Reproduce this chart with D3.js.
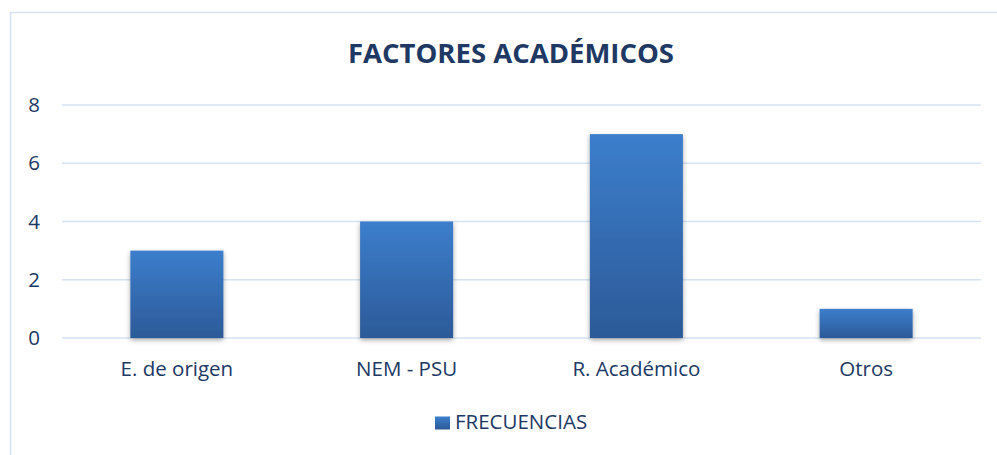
<!DOCTYPE html>
<html><head><meta charset="utf-8">
<script src="https://cdn.jsdelivr.net/npm/d3@7"></script>
<style>body{margin:0;background:#fff}svg{display:block}</style>
</head><body>
<script>
const categories = ["E. de origen", "NEM - PSU", "R. Académico", "Otros"];
const values = [3, 4, 7, 1];
const yTicks = [0, 2, 4, 6, 8];
const title = "FACTORES ACADÉMICOS";
const seriesName = "FRECUENCIAS";

const W = 997, H = 455;
const svg = d3.select("body").append("svg").attr("width", W).attr("height", H);
const font = "'Open Sans', sans-serif";
const txt = "#203864";

const defs = svg.append("defs");
const g = defs.append("linearGradient").attr("id","bg").attr("x1",0).attr("y1",0).attr("x2",0).attr("y2",1);
g.append("stop").attr("offset","0%").attr("stop-color","#3C7ECC");
g.append("stop").attr("offset","100%").attr("stop-color","#2C5A98");
const f = defs.append("filter").attr("id","sh").attr("x","-20%").attr("y","-20%").attr("width","140%").attr("height","140%");
f.append("feDropShadow").attr("dx",0).attr("dy",2).attr("stdDeviation",2.5).attr("flood-color","#000").attr("flood-opacity",0.35);

svg.append("rect").attr("x",10.5).attr("y",12.5).attr("width",W+20).attr("height",H+20)
  .attr("fill","none").attr("stroke","#D6E2F2").attr("stroke-width",1.5);

const x = d3.scaleBand().domain(categories).range([62, 981]).paddingInner(0.595).paddingOuter(0.2975);
const y = d3.scaleLinear().domain([0, 8]).range([338, 105]);

svg.append("g").selectAll("line").data(yTicks).join("line")
  .attr("x1",62).attr("x2",981).attr("y1",d=>y(d)).attr("y2",d=>y(d))
  .attr("stroke","#D6E2F2").attr("stroke-width",1.5);

const yAxis = svg.append("g").attr("transform","translate(62,0)")
  .call(d3.axisLeft(y).tickValues(yTicks).tickSize(0).tickPadding(22));
yAxis.select(".domain").remove();
yAxis.selectAll("text").attr("fill",txt).style("font-family",font).style("font-size","20.5px");

svg.append("g").selectAll("rect").data(values).join("rect")
  .attr("x",(d,i)=>x(categories[i])).attr("width",x.bandwidth())
  .attr("y",d=>y(d)).attr("height",d=>y(0)-y(d))
  .attr("fill","url(#bg)").attr("filter","url(#sh)");

const xAxis = svg.append("g").attr("transform","translate(0,338)")
  .call(d3.axisBottom(x).tickSize(0).tickPadding(23.5));
xAxis.select(".domain").remove();
xAxis.selectAll("text").attr("fill",txt).style("font-family",font).style("font-size","20.5px");

svg.append("text").attr("x",511).attr("y",63).attr("text-anchor","middle")
  .attr("fill",txt).style("font-family",font).style("font-weight","bold").style("font-size","27.5px").text(title);

svg.append("rect").attr("x",435).attr("y",416.5).attr("width",15).attr("height",13).attr("fill","url(#bg)");
svg.append("text").attr("x",455).attr("y",428.5).attr("fill",txt).style("font-family",font).style("font-size","20.5px").text(seriesName);
</script>
</body></html>
